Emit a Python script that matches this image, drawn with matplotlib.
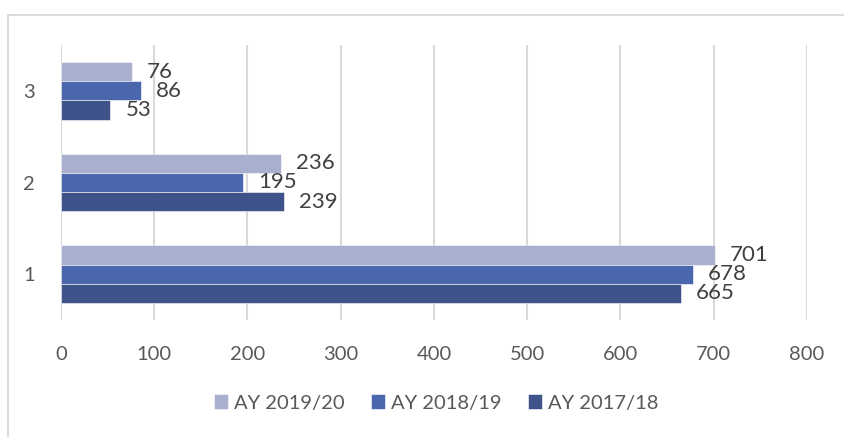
import numpy as np
import matplotlib
matplotlib.use('Agg')
import matplotlib.pyplot as plt
from matplotlib.patches import Rectangle

categories = ['1', '2', '3']
series_names = ['AY 2019/20', 'AY 2018/19', 'AY 2017/18']
ay_2019_20 = [701, 236, 76]
ay_2018_19 = [678, 195, 86]
ay_2017_18 = [665, 239, 53]
x_ticks = [0, 100, 200, 300, 400, 500, 600, 700, 800]

colors = ['#A9AFCE', '#4A66AC', '#3D5389']
plt.rcParams['font.family'] = ['Lato', 'DejaVu Sans']

fig = plt.figure(figsize=(8.45, 4.37), dpi=100)
# chart border (only top and left visible in the crop)
fig.patches.append(Rectangle((8 / 845, -0.1), 1.2, (437 - 15) / 437 + 0.1,
                             transform=fig.transFigure, fill=False,
                             edgecolor='#D9D9D9', linewidth=1.3))
ax = fig.add_axes([61 / 845, 1 - 320 / 437, (807 - 61) / 845, (320 - 45) / 437])

y = np.arange(len(categories))
h = 0.21
all_series = [ay_2019_20, ay_2018_19, ay_2017_18]
offsets = [h, 0, -h]
for vals, name, col, off in zip(all_series, series_names, colors, offsets):
    bars = ax.barh(y + off, vals, height=h, color=col, label=name,
                   edgecolor='#FFFFFF', linewidth=0.4, zorder=3)
    for b, v in zip(bars, vals):
        ax.text(v + 16, b.get_y() + h / 2, str(v), va='center', ha='left',
                fontsize=16, color='#404040', zorder=4)

ax.set_xlim(0, 800)
ax.set_ylim(-0.5, 2.5)
ax.set_xticks(x_ticks)
ax.set_yticks(y)
ax.set_yticklabels(categories)
ax.xaxis.grid(True, color='#D9D9D9', linewidth=1.5, zorder=0)
ax.set_axisbelow(True)
for s in ax.spines.values():
    s.set_visible(False)
ax.tick_params(axis='both', length=0, labelsize=14.5, colors='#595959')
ax.tick_params(axis='x', pad=19)
ax.tick_params(axis='y', pad=19)

leg = fig.legend(loc='center', bbox_to_anchor=(436 / 845, 1 - 403 / 437), ncol=3,
                 frameon=False, fontsize=14.5, handlelength=0.7, handleheight=0.7,
                 handletextpad=0.3, columnspacing=1.3, labelcolor='#595959')

fig.savefig('out.png', dpi=100)
